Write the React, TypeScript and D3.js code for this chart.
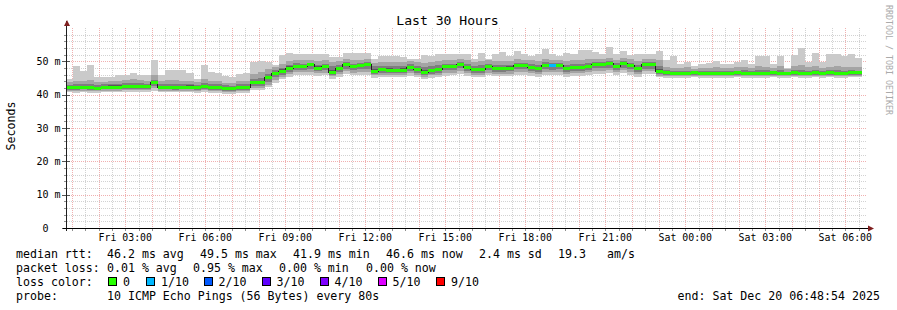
import React from "react";
import * as d3 from "d3";

// ---- data (SmokePing, 10 pings per sample, 960 s consolidated steps) ----
const END_TIME = new Date(2025, 11, 20, 6, 48, 54);
const RANGE_HOURS = 30;
const STEP_SECONDS = 960;
const FIRST_BAR_OFFSET_S = -200;

const median = [42.2, 42.2, 42.2, 42.1, 42.0, 42.3, 42.3, 42.3, 42.5, 42.5,
 42.5, 42.5, 43.6, 42.3, 42.3, 42.1, 42.3, 42.3, 42.3, 42.5,
 42.2, 42.2, 41.9, 41.9, 42.1, 42.1, 43.6, 43.6, 45.1, 46.5,
 47.1, 48.0, 48.6, 48.6, 49.0, 48.0, 48.5, 46.8, 47.8, 49.2,
 48.5, 48.9, 49.0, 47.1, 47.6, 47.3, 47.3, 47.3, 48.3, 47.5,
 46.7, 47.2, 47.6, 48.5, 48.5, 49.2, 48.3, 47.5, 47.6, 48.5,
 47.9, 47.9, 48.0, 48.9, 48.9, 48.3, 47.8, 48.9, 48.7, 48.9,
 47.8, 48.2, 48.2, 48.6, 49.2, 49.2, 49.5, 48.6, 49.5, 48.9,
 47.8, 49.0, 49.0, 47.1, 46.6, 46.5, 46.4, 46.5, 46.6, 46.4,
 46.5, 46.5, 46.4, 46.5, 46.6, 46.5, 46.4, 46.5, 46.5, 46.6,
 46.4, 46.5, 46.7, 46.5, 46.4, 46.6, 46.5, 46.6, 46.5, 46.4,
 46.6, 46.6];

const lossCount = median.map((_, i) => (i === 68 ? 1 : 0));

const ping10 = [44.7, 48.7, 47.2, 48.9, 45.2, 45.2, 45.2, 46.0, 46.0, 46.4,
 46.0, 46.0, 50.3, 45.9, 47.4, 47.4, 47.4, 46.6, 44.6, 48.9,
 46.9, 46.4, 45.6, 45.2, 46.1, 46.6, 49.9, 50.1, 49.8, 48.9,
 51.9, 52.6, 52.2, 52.2, 52.3, 52.1, 52.1, 51.3, 51.3, 52.6,
 52.6, 52.6, 52.5, 50.8, 51.5, 51.5, 51.5, 51.2, 50.8, 50.8,
 52.0, 51.5, 52.3, 52.3, 52.3, 52.3, 52.3, 50.8, 52.5, 50.8,
 52.3, 52.8, 51.5, 53.1, 52.3, 51.5, 52.3, 53.8, 52.2, 51.5,
 52.5, 52.3, 53.5, 53.5, 52.8, 52.3, 54.3, 52.2, 53.1, 52.0,
 52.2, 52.2, 52.2, 53.1, 50.5, 51.5, 49.3, 49.8, 48.5, 49.3,
 49.5, 50.1, 49.2, 49.3, 49.8, 50.5, 49.3, 51.5, 51.5, 49.3,
 51.5, 48.1, 51.8, 54.1, 49.8, 52.5, 49.8, 52.1, 52.1, 51.5,
 52.1, 51.0];

const ping9 = [43.8, 44.2, 44.0, 44.3, 43.9, 43.8, 44.0, 44.2, 44.4, 44.6,
 44.3, 44.1, 46.0, 44.2, 44.5, 44.3, 44.0, 44.2, 43.8, 44.6,
 44.0, 44.1, 43.6, 43.5, 44.0, 44.2, 46.2, 46.8, 47.6, 48.2,
 49.2, 50.0, 50.4, 50.3, 50.5, 50.2, 50.4, 49.8, 50.0, 50.6,
 50.4, 50.5, 50.6, 49.6, 49.8, 49.9, 49.7, 49.8, 50.2, 49.8,
 49.6, 49.9, 50.1, 50.4, 50.3, 50.6, 50.3, 49.8, 50.0, 50.4,
 50.1, 50.2, 50.2, 50.6, 50.5, 50.3, 50.1, 50.8, 50.5, 50.4,
 50.1, 50.3, 50.5, 50.6, 50.8, 50.8, 51.0, 50.5, 51.0, 50.6,
 50.2, 50.7, 50.7, 50.3, 48.4, 48.1, 48.0, 48.2, 47.8, 48.0,
 48.1, 48.3, 47.9, 48.0, 48.2, 48.4, 48.0, 48.5, 48.4, 48.0,
 48.6, 47.8, 48.5, 49.0, 48.2, 48.6, 48.0, 48.4, 48.5, 48.2,
 48.4, 48.2];

const ping8 = [43.0, 43.2, 43.1, 43.1, 42.9, 43.1, 43.2, 43.3, 43.5, 43.5,
 43.4, 43.3, 44.5, 43.2, 43.3, 43.2, 43.1, 43.3, 43.0, 43.5,
 43.1, 43.2, 42.8, 42.7, 43.1, 43.2, 44.7, 45.1, 46.3, 47.3,
 48.1, 48.9, 49.4, 49.3, 49.6, 49.0, 49.3, 48.5, 48.9, 49.7,
 49.3, 49.6, 49.7, 48.5, 48.7, 48.6, 48.5, 48.6, 49.1, 48.7,
 48.3, 48.6, 48.9, 49.3, 49.2, 49.8, 49.1, 48.6, 48.8, 49.3,
 48.9, 48.9, 49.0, 49.6, 49.5, 49.1, 48.9, 49.7, 49.5, 49.5,
 48.9, 49.1, 49.2, 49.5, 49.9, 49.9, 50.2, 49.4, 50.2, 49.6,
 48.9, 49.7, 49.7, 48.5, 47.3, 47.1, 47.0, 47.1, 47.1, 47.0,
 47.1, 47.2, 47.0, 47.1, 47.2, 47.3, 47.0, 47.4, 47.3, 47.1,
 47.3, 46.9, 47.4, 47.5, 47.1, 47.4, 47.1, 47.3, 47.4, 47.1,
 47.3, 47.2];

const ping7 = [42.6, 42.6, 42.6, 42.5, 42.4, 42.7, 42.8, 42.8, 43.0, 43.0,
 42.9, 42.9, 44.0, 42.7, 42.7, 42.5, 42.7, 42.8, 42.6, 43.0,
 42.6, 42.6, 42.3, 42.3, 42.5, 42.6, 44.0, 44.1, 45.6, 46.9,
 47.6, 48.5, 49.0, 49.0, 49.4, 48.5, 48.9, 47.5, 48.3, 49.6,
 48.9, 49.3, 49.4, 47.7, 48.1, 47.9, 47.8, 47.9, 48.7, 48.0,
 47.4, 47.8, 48.1, 48.9, 48.9, 49.6, 48.7, 48.0, 48.1, 48.9,
 48.4, 48.4, 48.5, 49.3, 49.3, 48.7, 48.3, 49.3, 49.1, 49.3,
 48.3, 48.6, 48.7, 49.0, 49.6, 49.6, 49.9, 49.0, 49.9, 49.3,
 48.3, 49.4, 49.4, 47.7, 46.9, 46.8, 46.7, 46.8, 46.9, 46.7,
 46.8, 46.8, 46.7, 46.8, 46.9, 46.8, 46.7, 46.8, 46.8, 46.9,
 46.7, 46.8, 47.0, 46.8, 46.7, 46.9, 46.8, 46.9, 46.8, 46.7,
 46.9, 46.9];

const ping4 = [41.9, 41.9, 41.9, 41.8, 41.7, 41.9, 41.9, 41.9, 42.1, 42.1,
 42.1, 42.1, 43.1, 41.9, 41.9, 41.8, 41.9, 41.9, 41.9, 42.1,
 41.8, 41.8, 41.5, 41.5, 41.7, 41.7, 43.1, 43.1, 44.6, 46.0,
 46.6, 47.5, 48.1, 48.1, 48.5, 47.5, 48.0, 46.4, 47.3, 48.7,
 48.0, 48.4, 48.5, 46.7, 47.1, 46.9, 46.9, 46.9, 47.8, 47.0,
 46.3, 46.8, 47.1, 48.0, 48.0, 48.7, 47.8, 47.0, 47.1, 48.0,
 47.4, 47.4, 47.5, 48.4, 48.4, 47.8, 47.3, 48.4, 48.2, 48.4,
 47.3, 47.7, 47.7, 48.1, 48.7, 48.7, 49.0, 48.1, 49.0, 48.4,
 47.3, 48.5, 48.5, 46.6, 46.2, 46.2, 46.1, 46.2, 46.3, 46.1,
 46.2, 46.2, 46.1, 46.2, 46.3, 46.2, 46.1, 46.2, 46.2, 46.3,
 46.1, 46.2, 46.4, 46.2, 46.1, 46.3, 46.2, 46.3, 46.2, 46.1,
 46.3, 46.3];

const ping3 = [41.5, 41.5, 41.6, 41.5, 41.4, 41.6, 41.6, 41.6, 41.7, 41.8,
 41.8, 41.7, 42.5, 41.6, 41.6, 41.5, 41.6, 41.6, 41.5, 41.7,
 41.5, 41.5, 41.2, 41.1, 41.4, 41.4, 42.6, 42.6, 43.8, 45.2,
 46.0, 46.9, 47.4, 47.4, 47.7, 47.0, 47.3, 46.0, 46.8, 47.8,
 47.3, 47.6, 47.6, 46.3, 46.6, 46.4, 46.4, 46.4, 47.2, 46.5,
 45.9, 46.3, 46.6, 47.3, 47.3, 47.9, 47.2, 46.5, 46.6, 47.3,
 46.9, 46.9, 47.0, 47.6, 47.6, 47.2, 46.8, 47.6, 47.5, 47.6,
 46.8, 47.1, 47.1, 47.4, 47.9, 47.9, 48.1, 47.4, 48.1, 47.6,
 46.8, 47.7, 47.7, 46.2, 45.9, 45.9, 45.8, 45.9, 46.0, 45.8,
 45.9, 45.9, 45.8, 45.9, 46.0, 45.9, 45.8, 45.9, 45.9, 46.0,
 45.8, 45.9, 46.0, 45.9, 45.8, 46.0, 45.9, 46.0, 45.9, 45.8,
 46.0, 46.0];

const ping2 = [41.1, 41.1, 41.2, 41.1, 41.0, 41.2, 41.2, 41.2, 41.3, 41.4,
 41.4, 41.3, 41.9, 41.2, 41.2, 41.1, 41.2, 41.2, 41.1, 41.3,
 41.1, 41.1, 40.8, 40.7, 41.0, 41.0, 42.0, 42.1, 43.0, 44.4,
 45.3, 46.2, 46.7, 46.7, 46.9, 46.4, 46.6, 45.5, 46.2, 47.0,
 46.6, 46.9, 46.9, 45.8, 46.0, 45.9, 45.9, 45.9, 46.5, 46.0,
 45.4, 45.8, 46.0, 46.6, 46.6, 47.1, 46.5, 45.9, 46.0, 46.6,
 46.2, 46.2, 46.3, 46.9, 46.9, 46.5, 46.1, 46.9, 46.8, 46.9,
 46.1, 46.4, 46.4, 46.7, 47.1, 47.1, 47.3, 46.7, 47.3, 46.9,
 46.1, 47.0, 47.0, 45.7, 45.6, 45.6, 45.5, 45.6, 45.7, 45.5,
 45.6, 45.6, 45.5, 45.6, 45.7, 45.6, 45.5, 45.6, 45.6, 45.7,
 45.5, 45.6, 45.7, 45.6, 45.5, 45.7, 45.6, 45.7, 45.6, 45.5,
 45.7, 45.7];

const ping1 = [40.7, 40.6, 40.8, 40.6, 40.5, 40.7, 40.8, 40.7, 40.9, 40.9,
 40.9, 40.8, 41.2, 40.8, 40.7, 40.7, 40.8, 40.7, 40.6, 40.9,
 40.6, 40.6, 40.3, 40.2, 40.6, 40.6, 41.4, 41.5, 42.2, 43.6,
 44.6, 45.4, 45.8, 45.8, 46.0, 45.6, 45.8, 44.8, 45.4, 46.1,
 45.8, 46.0, 46.0, 45.1, 45.3, 45.2, 45.2, 45.2, 45.7, 45.3,
 44.8, 45.1, 45.3, 45.7, 45.8, 46.2, 45.7, 45.2, 45.3, 45.8,
 45.5, 45.5, 45.6, 46.0, 46.0, 45.7, 45.4, 46.0, 45.9, 46.0,
 45.4, 45.7, 45.6, 45.9, 46.2, 46.2, 46.4, 45.9, 46.4, 46.0,
 45.4, 46.1, 46.1, 45.2, 45.0, 45.1, 45.0, 45.1, 45.2, 45.0,
 45.1, 45.1, 45.0, 45.1, 45.2, 45.1, 45.0, 45.1, 45.1, 45.2,
 45.0, 45.1, 45.2, 45.1, 45.0, 45.2, 45.1, 45.2, 45.1, 45.0,
 45.2, 45.2];

const yTickValues = [0, 10, 20, 30, 40, 50];
const lossLabels = ["0", "1/10", "2/10", "3/10", "4/10", "5/10", "9/10"];
const lossColors = ["#26ff00", "#00b8ff", "#0059ff", "#5e00ff", "#7e00ff", "#dd00ff", "#ff0000"];

const legendRtt = [
  { text: "median rtt:", x: 16 },
  { text: "46.2 ms avg", x: 107 },
  { text: "49.5 ms max", x: 200 },
  { text: "41.9 ms min", x: 293 },
  { text: "46.6 ms now", x: 386 },
  { text: "2.4 ms sd", x: 479 },
  { text: "19.3", x: 558 },
  { text: "am/s", x: 607 },
];
const legendLoss = [
  { text: "packet loss:", x: 16 },
  { text: "0.01 % avg", x: 107 },
  { text: "0.95 % max", x: 193 },
  { text: "0.00 % min", x: 279 },
  { text: "0.00 % now", x: 366 },
];
const lossLegendX = [108, 146, 203.5, 261.5, 319.5, 377.5, 436];

const MONO = "'DejaVu Sans Mono', monospace";

export default function App() {
  const W = 897, H = 310;
  const X0 = 67, X1 = 867, Y0 = 28, Y1 = 228;
  const start = new Date(END_TIME.getTime() - RANGE_HOURS * 3600 * 1000);
  const x = d3.scaleTime().domain([start, END_TIME]).range([X0, X1]);
  const y = d3.scaleLinear().domain([0, 60]).range([Y1, Y0]);

  const barT = (k: number) => new Date(start.getTime() + (FIRST_BAR_OFFSET_S + k * STEP_SECONDS) * 1000);

  const minorX = d3.timeMinute.every(30)!.range(start, END_TIME).filter(d => d.getMinutes() !== 0);
  const majorX = d3.timeHour.range(start, END_TIME);
  const labelX = d3.timeHour.every(3)!.range(start, END_TIME);
  const fmt = d3.timeFormat("%a %H:%M");

  const minorY = d3.range(2, 60, 2).filter(v => v % 10 !== 0);
  const majorY = yTickValues.filter(v => v > 0);

  const layers = [
    { lo: ping1, hi: ping10, c: "#cacaca" },
    { lo: ping2, hi: ping9, c: "#a4a4a4" },
    { lo: ping3, hi: ping8, c: "#7e7e7e" },
    { lo: ping4, hi: ping7, c: "#585858" },
  ];

  const medPts: [number, number][] = median.map((m, k) => [x(barT(k)), y(m)]);
  medPts.push([x(barT(median.length)), y(median[median.length - 1])]);
  const medLine = d3.line().curve(d3.curveStepAfter)(medPts) || "";

  const px = (v: number) => Math.round(v) + 0.5;
  const minorCol = "rgba(143,143,143,0.4)";
  const majorCol = "rgba(222,80,80,0.45)";

  return (
    <svg width={W} height={H} style={{ display: "block", position: "absolute", left: 0, top: 0, background: "#fff" }}>
      <defs>
        <clipPath id="plot"><rect x={X0} y={Y0} width={X1 - X0} height={Y1 - Y0} /></clipPath>
      </defs>
      <rect x={0} y={0} width={W} height={H} fill="#ffffff" />
      {/* title */}
      <text x={447.5} y={25} textAnchor="middle" fontFamily={MONO} fontSize={13.1} fill="#000">Last 30 Hours</text>
      {/* watermark */}
      <text transform="translate(886,5) rotate(90)" fontFamily={MONO} fontSize={8.3} fill="#aaaaaa">RRDTOOL / TOBI OETIKER</text>
      {/* y label */}
      <text transform="translate(15,126) rotate(-90)" textAnchor="middle" fontFamily={MONO} fontSize={11.6} fill="#000">Seconds</text>

      {/* grid */}
      <g strokeWidth={1} strokeDasharray="1,1">
        {minorY.map(v => <line key={"my" + v} x1={X0} x2={X1} y1={px(y(v))} y2={px(y(v))} stroke={minorCol} />)}
        {minorX.map(d => <line key={"mx" + d.getTime()} x1={px(x(d))} x2={px(x(d))} y1={Y0} y2={Y1} stroke={minorCol} />)}
        {majorY.map(v => <line key={"My" + v} x1={X0} x2={X1} y1={px(y(v))} y2={px(y(v))} stroke={majorCol} />)}
        {majorX.map(d => <line key={"Mx" + d.getTime()} x1={px(x(d))} x2={px(x(d))} y1={Y0} y2={Y1} stroke={majorCol} />)}
      </g>

      {/* smoke */}
      <g clipPath="url(#plot)" shapeRendering="crispEdges">
        {layers.map((L, li) => (
          <g key={li} fill={L.c}>
            {median.map((_, k) => {
              const xa = x(barT(k)), xb = x(barT(k + 1));
              const ya = y(L.hi[k]), yb = y(L.lo[k]);
              return <rect key={k} x={xa} y={ya} width={xb - xa} height={Math.max(0, yb - ya)} />;
            })}
          </g>
        ))}
        <path d={medLine} fill="none" stroke="#202020" strokeWidth={1} />
        {median.map((m, k) => {
          const xa = x(barT(k)), xb = x(barT(k + 1));
          return <rect key={"g" + k} x={xa} y={y(m) - 1.5} width={xb - xa} height={3} fill={lossColors[lossCount[k]]} />;
        })}
      </g>

      {/* y axis ticks and labels */}
      <g shapeRendering="crispEdges">
        {minorY.map(v => <line key={"ty" + v} x1={64} x2={67} y1={px(y(v))} y2={px(y(v))} stroke="#8f8f8f" />)}
        {yTickValues.map(v => <line key={"tY" + v} x1={62} x2={70} y1={px(y(v))} y2={px(y(v))} stroke="#555" />)}
        {minorX.concat(majorX).map(d => <line key={"tx" + d.getTime()} x1={px(x(d))} x2={px(x(d))} y1={228} y2={231} stroke="#8f8f8f" />)}
      </g>
      {yTickValues.map(v => (
        <g key={"yl" + v} fontFamily={MONO} fontSize={10} fill="#000">
          <text x={48.5} y={y(v) + 3.6} textAnchor="end">{v}</text>
          {v > 0 && <text x={54.5} y={y(v) + 3.6}>m</text>}
        </g>
      ))}
      {labelX.map(d => (
        <text key={"xl" + d.getTime()} x={x(d)} y={241} textAnchor="middle" fontFamily={MONO} fontSize={9.9} fill="#000">{fmt(d)}</text>
      ))}

      {/* axes */}
      <line x1={px(X0) - 1} x2={px(X0) - 1} y1={21} y2={231} stroke="#1f1f1f" strokeWidth={1} shapeRendering="crispEdges" />
      <line x1={63} x2={869} y1={px(Y1)} y2={px(Y1)} stroke="#000" strokeWidth={1} shapeRendering="crispEdges" />
      <path d={`M${X0 - 3},26 L${X0},20 L${X0 + 3},26 Z`} fill="#7f1f1f" />
      <path d={`M868,${Y1 - 2.5} L874,${Y1 + 0.5} L868,${Y1 + 3.5} Z`} fill="#7f1f1f" />

      {/* legend */}
      <g fontFamily={MONO} fontSize={11.6} fill="#000" style={{ whiteSpace: "pre" }}>
        {legendRtt.map(s => <text key={s.text} x={s.x} y={257.5}>{s.text}</text>)}
        {legendLoss.map(s => <text key={s.text} x={s.x} y={271.5}>{s.text}</text>)}
        <text x={16} y={285.5}>loss color:</text>
        {lossLabels.map((l, i) => (
          <g key={l}>
            <rect x={lossLegendX[i] + 0.5} y={277.5} width={8} height={8} fill={lossColors[i]} stroke="#000" strokeWidth={1} shapeRendering="crispEdges" />
            <text x={lossLegendX[i] + 15} y={285.5}>{l}</text>
          </g>
        ))}
        <text x={16} y={299.5}>probe:</text>
        <text x={107} y={299.5}>10 ICMP Echo Pings (56 Bytes) every 80s</text>
        <text x={677.5} y={299.5}>end: Sat Dec 20 06:48:54 2025</text>
      </g>
    </svg>
  );
}
